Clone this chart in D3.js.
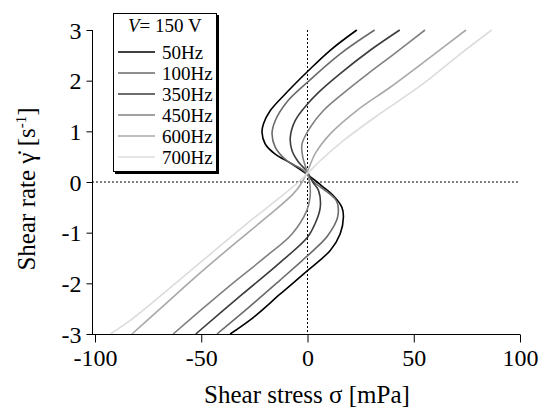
<!DOCTYPE html>
<html>
<head>
<meta charset="utf-8">
<script src="https://cdn.jsdelivr.net/npm/d3@7"></script>
<style>
  body { margin: 0; background: #fff; }
  svg { display: block; font-family: "Liberation Serif", "Times New Roman", serif; }
</style>
</head>
<body>
<svg id="chart" width="542" height="408"></svg>
<script>
// [shear stress sigma (mPa), shear rate gamma (1/s)]
const f50 = [[-36.4, -3], [-25.4, -2.67], [-12.8, -2.21], [0, -1.75], [10.7, -1.35], [15.4, -1.02], [16.9, -0.69], [16.2, -0.5], [12.2, -0.27], [6.5, -0.07], [4.5, 0], [-1.5, 0.19], [-7.5, 0.36], [-15.5, 0.56], [-19.9, 0.75], [-21.4, 0.98], [-20.7, 1.15], [-17.5, 1.41], [-9.7, 1.77], [0.5, 2.2], [10.7, 2.6], [23.2, 3]];
const f100 = [[-42.6, -3], [-27.5, -2.47], [-13, -1.94], [-2.5, -1.55], [2.8, -1.35], [9.5, -1.06], [14.2, -0.69], [13.6, -0.37], [3, 0], [-1.9, 0.23], [-9.7, 0.42], [-15.2, 0.69], [-16.7, 0.95], [-15.2, 1.21], [-9.7, 1.58], [0, 1.97], [15.4, 2.53], [31.6, 3]];
const f350 = [[-52.6, -3], [-30.5, -2.21], [-13.5, -1.61], [0, -1.09], [3.6, -0.82], [6, -0.5], [5.2, -0.17], [2.5, 0], [-0.6, 0.23], [-4.2, 0.39], [-7.3, 0.62], [-8.1, 0.88], [-5.8, 1.21], [0, 1.54], [5.2, 1.77], [15.4, 2.14], [29.5, 2.6], [43.4, 3]];
const f450 = [[-63.2, -3], [-50.5, -2.54], [-35.5, -2.01], [-19.8, -1.48], [-7.2, -1.02], [-0.3, -0.56], [1.2, -0.3], [1, 0], [-0.6, 0.26], [-2.2, 0.49], [-2.6, 0.75], [1.3, 1.08], [7.5, 1.41], [16.5, 1.74], [28.5, 2.14], [40.8, 2.53], [55.3, 3]];
const f600 = [[-82.6, -3], [-68.5, -2.47], [-54.5, -1.94], [-36.4, -1.29], [-19.1, -0.69], [-6.6, -0.23], [-2.5, 0], [0.5, 0.26], [3.6, 0.56], [10.7, 0.95], [23.2, 1.41], [38.9, 1.87], [57.7, 2.46], [74.6, 3]];
const f700 = [[-92.8, -3], [-83.4, -2.73], [-66.1, -2.14], [-47.3, -1.48], [-28.5, -0.82], [-12.8, -0.3], [-4.2, 0], [0.5, 0.19], [6, 0.42], [17, 0.82], [34.2, 1.35], [54.5, 1.94], [72, 2.53], [86.7, 3]];

const seriesNames = ["50Hz", "100Hz", "350Hz", "450Hz", "600Hz", "700Hz"];
const seriesData = [f50, f100, f350, f450, f600, f700];
const seriesColors = ["#000000", "#6a6a6a", "#3c3c3c", "#808080", "#a8a8a8", "#dcdcdc"];
const xTicks = [-100, -50, 0, 50, 100];
const yTicks = [-3, -2, -1, 0, 1, 2, 3];

const svg = d3.select("#chart");
const left = 92, bottom = 334;

const x = d3.scaleLinear().domain([-100, 100]).range([95, 520]);
const y = d3.scaleLinear().domain([-3, 3]).range([334, 30]);

// dotted zero lines
svg.append("line")
  .attr("x1", x(0)).attr("x2", x(0))
  .attr("y1", y(3)).attr("y2", bottom)
  .attr("stroke", "#000").attr("stroke-width", 1).attr("stroke-dasharray", "2,2");
svg.append("line")
  .attr("x1", left).attr("x2", x(100))
  .attr("y1", y(0)).attr("y2", y(0))
  .attr("stroke", "#000").attr("stroke-width", 1).attr("stroke-dasharray", "2,2");

// curves
const line = d3.line()
  .x((d) => x(d[0]))
  .y((d) => y(d[1]))
  .curve(d3.curveCatmullRom.alpha(0.5));

svg.append("g")
  .selectAll("path")
  .data(seriesData)
  .join("path")
  .attr("d", line)
  .attr("fill", "none")
  .attr("stroke", (d, i) => seriesColors[i])
  .attr("stroke-width", 1.6);

// axes (hyphen minus like the original)
const fmt = (d) => String(d);
const xAxis = svg.append("g")
  .attr("transform", `translate(0,${bottom + 0.5})`)
  .call(d3.axisBottom(x).tickValues(xTicks).tickSize(8).tickSizeOuter(0).tickPadding(6).tickFormat(fmt));
const yAxis = svg.append("g")
  .attr("transform", `translate(${left + 0.5},0)`)
  .call(d3.axisLeft(y).tickValues(yTicks).tickSize(6).tickSizeOuter(0).tickPadding(5).tickFormat(fmt));

[xAxis, yAxis].forEach((g) => {
  g.select(".domain").remove();
  g.selectAll("line").attr("stroke", "#000");
  g.selectAll("text")
    .attr("font-family", "Liberation Serif, Times New Roman, serif")
    .attr("font-size", 24)
    .attr("fill", "#000");
});
yAxis.selectAll("text").attr("dy", "0.34em");

svg.append("line")
  .attr("x1", left).attr("x2", x(100))
  .attr("y1", bottom + 0.5).attr("y2", bottom + 0.5)
  .attr("stroke", "#000");
svg.append("line")
  .attr("x1", left + 0.5).attr("x2", left + 0.5)
  .attr("y1", y(3)).attr("y2", bottom + 1)
  .attr("stroke", "#000");

// axis titles
svg.append("text")
  .attr("x", 307).attr("y", 403)
  .attr("text-anchor", "middle")
  .attr("font-size", 25)
  .text("Shear stress σ [mPa]");

const yTitle = svg.append("text")
  .attr("transform", "translate(35,189) rotate(-90)")
  .attr("text-anchor", "middle")
  .attr("font-size", 25);
yTitle.append("tspan").text("Shear rate γ\u0307  [s");
yTitle.append("tspan").attr("dy", -9).attr("font-size", 15).text("-1");
yTitle.append("tspan").attr("dy", 9).text("]");

// legend
const legend = svg.append("g");
legend.append("rect")
  .attr("x", 115).attr("y", 15).attr("width", 104).attr("height", 159)
  .attr("fill", "#000");
legend.append("rect")
  .attr("x", 113.5).attr("y", 13.5).attr("width", 103).attr("height", 158)
  .attr("fill", "#fff").attr("stroke", "#000").attr("stroke-width", 1);

const head = legend.append("text").attr("x", 128).attr("y", 32).attr("font-size", 19);
head.append("tspan").attr("font-style", "italic").text("V");
head.append("tspan").text("= 150 V");

const rows = legend.selectAll("g.row")
  .data(seriesNames)
  .join("g")
  .attr("class", "row")
  .attr("transform", (d, i) => `translate(0,${52 + i * 21})`);
rows.append("line")
  .attr("x1", 118).attr("x2", 155)
  .attr("stroke", (d, i) => seriesColors[i])
  .attr("stroke-width", 1.6);
rows.append("text")
  .attr("x", 162).attr("y", 6.5)
  .attr("font-size", 19)
  .text((d) => d);
</script>
</body>
</html>
